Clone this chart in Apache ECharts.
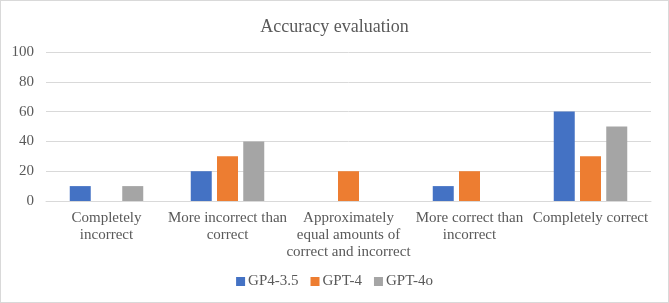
<!DOCTYPE html>
<html>
<head>
<meta charset="utf-8">
<script src="https://cdn.jsdelivr.net/npm/echarts@6/dist/echarts.min.js"></script>
<style>
  html, body { margin: 0; padding: 0; background: #fff; }
  #chart { width: 667px; height: 301px; border: 1px solid #d9d9d9; }
</style>
</head>
<body>
<div id="chart"></div>
<script>
  var categories = [
    'Completely\nincorrect',
    'More incorrect than\ncorrect',
    'Approximately\nequal amounts of\ncorrect and incorrect',
    'More correct than\nincorrect',
    'Completely correct'
  ];
  var gp35 = [10, 20, 0, 10, 60];
  var gpt4 = [0, 30, 20, 20, 30];
  var gpt4o = [10, 40, 0, 0, 50];

  var font = 'Liberation Serif';
  var chartDom = document.getElementById('chart');
  var myChart = echarts.init(chartDom);
  var option = {
    animation: false,
    title: {
      text: 'Accuracy evaluation',
      left: 'center',
      top: 12,
      textStyle: { fontFamily: font, fontSize: 18, fontWeight: 'normal', color: '#595959' }
    },
    legend: {
      data: ['GP4-3.5', 'GPT-4', 'GPT-4o'],
      bottom: 8,
      left: 'center',
      icon: 'rect',
      itemWidth: 9,
      itemHeight: 9,
      itemGap: 12,
      textStyle: { fontFamily: font, fontSize: 15, color: '#595959', padding: [0, 0, 0, -2] }
    },
    grid: { left: 45, right: 17, top: 51, bottom: 101 },
    xAxis: {
      type: 'category',
      data: categories,
      axisLine: { lineStyle: { color: '#d9d9d9' } },
      axisTick: { show: false },
      axisLabel: { fontFamily: font, fontSize: 15, color: '#595959', lineHeight: 17, margin: 9, interval: 0 }
    },
    yAxis: {
      type: 'value',
      min: 0,
      max: 100,
      interval: 20,
      axisLabel: { fontFamily: font, fontSize: 15, color: '#595959', margin: 12 },
      splitLine: { lineStyle: { color: '#d9d9d9' } }
    },
    series: [
      { name: 'GP4-3.5', type: 'bar', data: gp35, barWidth: 21, barGap: '25%', itemStyle: { color: '#4472C4' } },
      { name: 'GPT-4', type: 'bar', data: gpt4, barWidth: 21, barGap: '25%', itemStyle: { color: '#ED7D31' } },
      { name: 'GPT-4o', type: 'bar', data: gpt4o, barWidth: 21, barGap: '25%', itemStyle: { color: '#A5A5A5' } }
    ]
  };
  option && myChart.setOption(option);
</script>
</body>
</html>
